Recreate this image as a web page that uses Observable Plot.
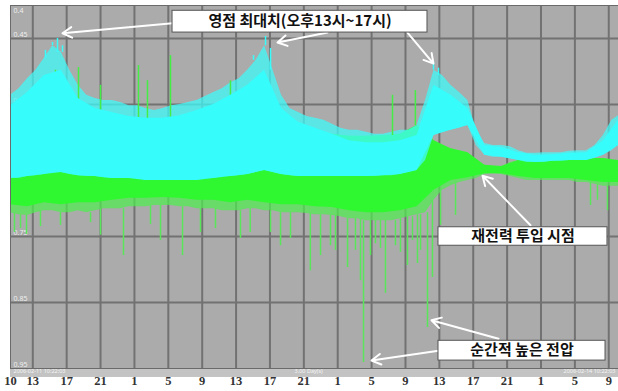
<!DOCTYPE html>
<html><head><meta charset="utf-8">
<script src="https://cdn.jsdelivr.net/npm/d3@7"></script>
<script src="https://cdn.jsdelivr.net/npm/@observablehq/plot@0.6"></script>
<style>body{margin:0;background:#fff;} svg{display:block;}</style>
</head><body><div id="chart"></div>
<script>
const start = Date.UTC(2006,1,11,10,22,3);
const endT = Date.UTC(2006,1,14,10,9,0);
const HR = 3600e3;
// sample hours since start (outer envelope, hourly)
const sampleHours = [0,1,2,3,4,5,6,7,8,9,10,11,12,13,14,15,16,17,18,19,20,21,22,23,24,25,26,27,28,29,30,31,32,33,34,35,36,37,38,39,40,41,42,43,44,45,46,47,48,49,50,51,52,53,54,55,56,57,58,59,60,61,62,63,64,65,66,67,68,69,70,71,71.78];
const cyanTop = [0.536,0.526,0.511,0.498,0.480,0.461,0.471,0.498,0.521,0.536,0.541,0.544,0.544,0.547,0.552,0.552,0.556,0.559,0.556,0.552,0.550,0.547,0.544,0.538,0.532,0.526,0.517,0.511,0.498,0.483,0.461,0.498,0.536,0.556,0.562,0.568,0.571,0.574,0.580,0.586,0.589,0.589,0.592,0.595,0.595,0.592,0.589,0.589,0.582,0.544,0.498,0.506,0.521,0.532,0.544,0.589,0.609,0.612,0.612,0.614,0.620,0.624,0.624,0.623,0.623,0.623,0.621,0.620,0.620,0.612,0.597,0.574,0.567];
const cyanBottom = [0.662,0.662,0.659,0.658,0.656,0.653,0.653,0.656,0.658,0.659,0.659,0.661,0.662,0.662,0.662,0.662,0.665,0.665,0.665,0.665,0.665,0.665,0.665,0.662,0.662,0.659,0.659,0.658,0.656,0.653,0.650,0.653,0.656,0.658,0.659,0.659,0.659,0.659,0.659,0.659,0.659,0.659,0.659,0.659,0.658,0.658,0.656,0.653,0.650,0.635,0.597,0.589,0.589,0.586,0.582,0.612,0.627,0.630,0.630,0.632,0.635,0.638,0.638,0.638,0.636,0.636,0.635,0.635,0.635,0.632,0.627,0.620,0.612];
const greenTop = [0.574,0.571,0.567,0.562,0.559,0.556,0.559,0.562,0.571,0.574,0.577,0.582,0.582,0.582,0.586,0.586,0.589,0.589,0.589,0.586,0.586,0.586,0.583,0.583,0.582,0.580,0.577,0.574,0.571,0.568,0.567,0.571,0.577,0.582,0.586,0.589,0.592,0.592,0.595,0.597,0.598,0.598,0.598,0.598,0.597,0.597,0.595,0.589,0.582,0.582,0.605,0.612,0.617,0.620,0.623,0.635,0.642,0.644,0.644,0.638,0.635,0.635,0.635,0.635,0.635,0.635,0.632,0.632,0.632,0.632,0.632,0.635,0.635];
const greenBottom = [0.714,0.717,0.718,0.714,0.711,0.711,0.714,0.714,0.711,0.714,0.711,0.708,0.708,0.708,0.705,0.705,0.705,0.703,0.703,0.703,0.705,0.705,0.708,0.708,0.708,0.711,0.711,0.711,0.708,0.708,0.711,0.711,0.714,0.714,0.714,0.715,0.717,0.717,0.718,0.720,0.723,0.723,0.726,0.726,0.726,0.726,0.723,0.720,0.717,0.714,0.695,0.680,0.673,0.668,0.665,0.662,0.656,0.655,0.656,0.659,0.662,0.665,0.665,0.665,0.665,0.665,0.665,0.668,0.668,0.671,0.674,0.674,0.674];
// dense core (every 2 hours)
const coreHours = [0,2,4,6,8,10,12,14,16,18,20,22,24,26,28,30,32,34,36,38,40,42,44,46,48,50,52,54,56,58,60,62,64,66,68,70,71.78];
const cyanCoreTop = [0.552,0.532,0.506,0.498,0.541,0.556,0.562,0.568,0.571,0.571,0.567,0.559,0.550,0.536,0.521,0.498,0.556,0.577,0.586,0.595,0.605,0.608,0.608,0.605,0.597,0.521,0.536,0.556,0.612,0.615,0.623,0.627,0.626,0.624,0.623,0.605,0.574];
const greenCoreBottom = [0.702,0.705,0.699,0.702,0.699,0.699,0.695,0.692,0.692,0.691,0.692,0.695,0.695,0.699,0.695,0.699,0.702,0.702,0.705,0.706,0.711,0.714,0.714,0.711,0.705,0.680,0.665,0.661,0.655,0.655,0.659,0.662,0.662,0.662,0.665,0.668,0.668];
// spikes: hour since start, value
const greenDownH = [0.47,1.18,1.89,3.54,5.9,9.45,10.63,13.34,16.53,17.71,20.31,22.43,24.2,27.15,28.3,30.7,31.88,33.06,35.4,36.6,37.78,38.37,39.79,40.73,41.32,41.68,42.5,43.09,43.68,44.27,45.45,46.04,46.87,47.46,48.05,48.41,49.23,49.82,50.77,52.54,68.48,69.3,70.48];
const greenDownV = [0.744,0.738,0.747,0.735,0.733,0.729,0.748,0.779,0.732,0.756,0.779,0.744,0.738,0.753,0.744,0.744,0.764,0.753,0.802,0.779,0.764,0.771,0.797,0.771,0.817,0.941,0.779,0.761,0.768,0.836,0.764,0.774,0.794,0.756,0.791,0.771,0.888,0.812,0.733,0.718,0.703,0.695,0.711];
const greenUpH = [3.3,5.31,8.03,10.63,15.11,16.17,18.89,25.97,45.1,47.8];
const greenUpV = [0.536,0.498,0.494,0.521,0.491,0.514,0.476,0.514,0.536,0.529];
const cyanUpH = [4.13,4.96,5.55,6.14,28.69,29.52,30.11,30.7,49.94,50.53];
const cyanUpV = [0.468,0.456,0.450,0.461,0.476,0.461,0.447,0.465,0.486,0.495];
// axis
const xLabels = ["10","13","17","21","1","5","9","13","17","21","1","5","9","13","17","21","1","5","9"];
const xTickDays = [11,11,11,11,12,12,12,12,12,12,13,13,13,13,13,13,14,14,14];
const xTickClock = [10.37,13,17,21,1,5,9,13,17,21,1,5,9,13,17,21,1,5,9];
const yTicks = [0.4,0.45,0.55,0.65,0.75,0.85,0.95];
const yLabels = ["0.4","0.45","0.55","0.65","0.75","0.85","0.95"];
const yGrid = [0.45,0.55,0.65,0.75,0.85];
const stripTexts = ["2006-02-11 10:22:03","3.00 Day(s)","2006-02-14 10:22:03"];
// annotations (hours since start, values)
const boxLabels = ["영점 최대치(오후13시~17시)","재전력 투입 시점","순간적 높은 전압"];
const boxH1 = [19.13,50.53,50.53], boxH2 = [49.23,70.48,70.25];
const boxV1 = [0.408,0.736,0.908], boxV2 = [0.441,0.764,0.938];
const arrowH1 = [19.13,37.43,46.87,61.39,57.62,50.53];
const arrowV1 = [0.427,0.441,0.441,0.733,0.905,0.923];
const arrowH2 = [6.14,31.52,49.94,55.73,49.7,42.62];
const arrowV2 = [0.442,0.456,0.488,0.658,0.877,0.938];

const T = h => new Date(start + h*HR);
const series = sampleHours.map((h,i)=>({t:T(h), cT:cyanTop[i], cB:cyanBottom[i], gT:greenTop[i], gB:greenBottom[i]}));
const core = coreHours.map((h,i)=>({t:T(h), cT:cyanCoreTop[i], cB:cyanBottom[sampleHours.indexOf(h)], gT:greenTop[sampleHours.indexOf(h)], gB:greenCoreBottom[i]}));
const idx = h => Math.min(sampleHours.length-1, Math.round(h));
const gDown = greenDownH.map((h,i)=>({t:T(h), v:greenDownV[i], b:greenBottom[idx(h)]}));
const gUp = greenUpH.map((h,i)=>({t:T(h), v:greenUpV[i], b:greenTop[idx(h)]}));
const cUp = cyanUpH.map((h,i)=>({t:T(h), v:cyanUpV[i], b:cyanTop[idx(h)]}));
const xt = xLabels.map((l,i)=>({t:new Date(Date.UTC(2006,1,xTickDays[i]) + xTickClock[i]*HR), label:l}));
const yt = yTicks.map((v,i)=>({v, label:yLabels[i]}));
const boxes = boxLabels.map((l,i)=>({label:l, x1:T(boxH1[i]), x2:T(boxH2[i]), y1:boxV1[i], y2:boxV2[i], xm:T((boxH1[i]+boxH2[i])/2), ym:(boxV1[i]+boxV2[i])/2}));
const arrows = arrowH1.map((h,i)=>({x1:T(h), y1:arrowV1[i], x2:T(arrowH2[i]), y2:arrowV2[i]}));

const chart = Plot.plot({
  width: 618, height: 391,
  marginLeft: 10, marginRight: 0, marginTop: 5, marginBottom: 23,
  style: {background:"#fff", overflow:"hidden"},
  x: {type:"utc", domain:[new Date(start), new Date(endT)], axis:null},
  y: {domain:[0.4,0.95], reverse:true, axis:null},
  marks: [
    Plot.frame({fill:"#ababab"}),
    Plot.rect([0], {x1:new Date(start), x2:new Date(endT), y1:0.95, y2:0.9636, fill:"#c3c3c3"}),
    Plot.ruleY(yGrid, {stroke:"#727272", strokeWidth:2}),
    Plot.ruleX(xt.slice(1), {x:"t", y1:0.4, y2:0.95, stroke:"#727272", strokeWidth:2}),
    Plot.text(yt.slice(0,1), {y:"v", text:"label", frameAnchor:"left", dx:3, dy:5, textAnchor:"start", fontSize:7, fill:"#eeeeee"}),
    Plot.text(yt.slice(1), {y:"v", text:"label", frameAnchor:"left", dx:3, dy:-4, textAnchor:"start", fontSize:7, fill:"#eeeeee"}),
    Plot.areaY(series, {x:"t", y1:"gT", y2:"gB", fill:"#4cf04c", fillOpacity:0.7}),
    Plot.ruleX(gDown, {x:"t", y1:"b", y2:"v", stroke:"#5ae65a", strokeWidth:1.5}),
    Plot.areaY(core, {x:"t", y1:"gT", y2:"gB", fill:"#30f830"}),
    Plot.areaY(series, {x:"t", y1:"cT", y2:"cB", fill:"#40fafa", fillOpacity:0.75}),
    Plot.ruleX(gUp, {x:"t", y1:"b", y2:"v", stroke:"#44ee44", strokeWidth:1.5}),
    Plot.ruleX(cUp, {x:"t", y1:"b", y2:"v", stroke:"#38fcfc", strokeWidth:1.5}),
    Plot.areaY(core, {x:"t", y1:"cT", y2:"cB", fill:"#36fcfc"}),
    Plot.frame({stroke:"#6a6a6a", strokeWidth:1}),
    Plot.text([stripTexts[0]], {x:()=>new Date(start), y:()=>0.9548, text:d=>d, textAnchor:"start", dx:3, fontSize:5.5, fill:"#f4f4f4"}),
    Plot.text([stripTexts[1]], {x:()=>T(35.2), y:()=>0.9548, text:d=>d, fontSize:5.5, fill:"#f4f4f4"}),
    Plot.text([stripTexts[2]], {x:()=>new Date(endT), y:()=>0.9548, text:d=>d, textAnchor:"end", dx:-3, fontSize:5.5, fill:"#f4f4f4"}),
    Plot.text(xt, {x:"t", text:"label", frameAnchor:"bottom", dy:16.5, fontFamily:"Liberation Serif", fontWeight:"bold", fontSize:12.5, fill:"#333"}),
    Plot.arrow(arrows, {x1:"x1", y1:"y1", x2:"x2", y2:"y2", stroke:"#ffffff", strokeWidth:2, headLength:8}),
    Plot.rect(boxes, {x1:"x1", x2:"x2", y1:"y1", y2:"y2", fill:"#ffffff", stroke:"#555", strokeWidth:1}),
    Plot.text(boxes, {x:"xm", y:"ym", text:"label", fontFamily:"Noto Sans CJK KR", fontWeight:"bold", fontSize:15, fill:"#111", style:{letterSpacing:"2.5px"}})
  ]
});
document.getElementById("chart").append(chart);
</script></body></html>
